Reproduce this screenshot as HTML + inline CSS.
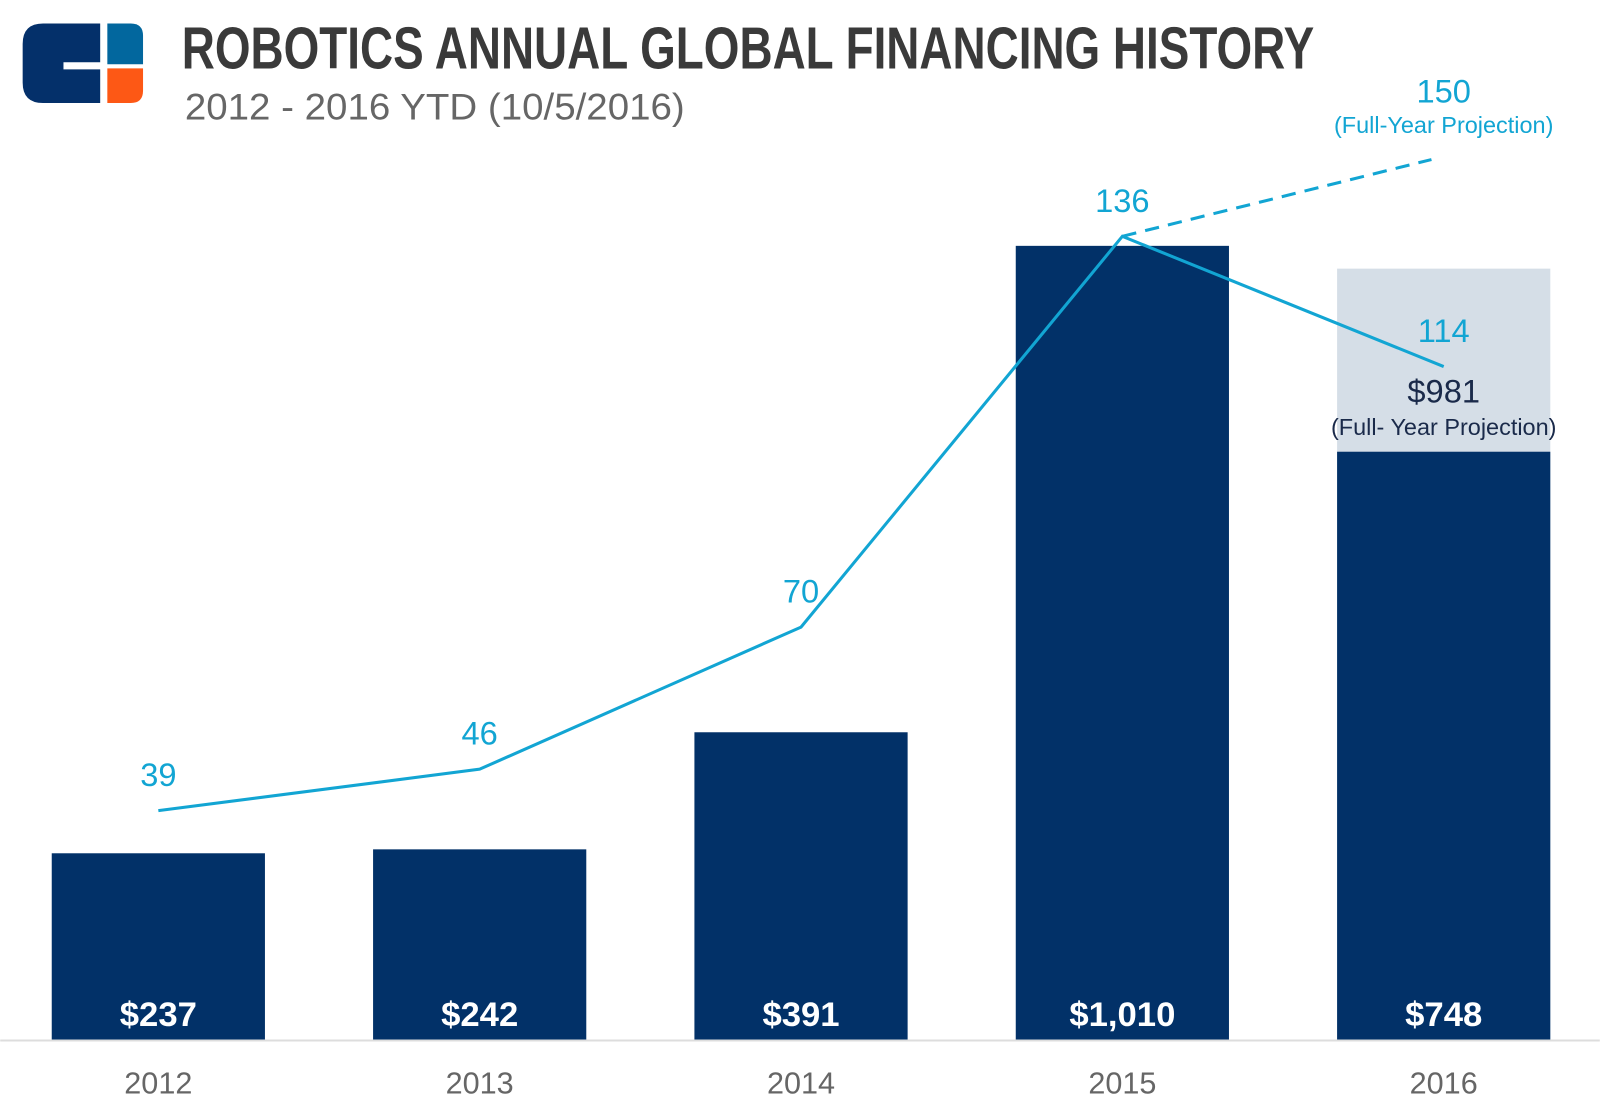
<!DOCTYPE html>
<html><head><meta charset="utf-8"><style>
html,body{margin:0;padding:0;background:#fff;width:1600px;height:1115px;overflow:hidden}
svg{display:block;font-family:"Liberation Sans",sans-serif}
</style></head><body>
<svg id="chart" width="1600" height="1115" viewBox="0 0 1568 1093">
<g>
<path d="M42,23 H98 V61 H62 V68 H98 V101 H42 Q22,101 22,81 V43 Q22,23 42,23 Z" fill="#04306a"/>
<path d="M105,23 H128 Q140,23 140,35 V63 H105 Z" fill="#02679e"/>
<path d="M105,67 H140 V89 Q140,101 128,101 H105 Z" fill="#fd5815"/>
</g>
<text x="178" y="67" font-size="58" font-weight="bold" fill="#3a3a3a" textLength="1110" lengthAdjust="spacingAndGlyphs">ROBOTICS ANNUAL GLOBAL FINANCING HISTORY</text>
<text x="181" y="117" font-size="36" fill="#666" textLength="490" lengthAdjust="spacingAndGlyphs">2012 - 2016 YTD (10/5/2016)</text>
<line x1="0" y1="1020" x2="1568" y2="1020" stroke="#ddd" stroke-width="2"/>
<g id="bars"></g><g id="line"></g><g id="labels"></g>
</svg>
<script>
const years=["2012","2013","2014","2015","2016"];
const financing=[237,242,391,1010,748];
const financingLabels=["$237","$242","$391","$1,010","$748"];
const projectedFinancing=981;
const deals=[39,46,70,136,114];
const projectedDeals=150;
const NS="http://www.w3.org/2000/svg";
const xC=i=>155+i*315;
const yBar=v=>1019-v*0.7703;
const yLine=v=>1021-v*5.804;
function el(t,a,p){const e=document.createElementNS(NS,t);for(const k in a)e.setAttribute(k,a[k]);document.getElementById(p).appendChild(e);return e;}
function txt(p,x,y,s,size,fill,extra){const e=el("text",Object.assign({x:x,y:y,"font-size":size,fill:fill,"text-anchor":"middle"},extra||{}),p);e.textContent=s;return e;}
let pb=el("rect",{x:xC(4)-104.5,y:yBar(projectedFinancing),width:209,height:1019-yBar(projectedFinancing),fill:"#d5dee7"},"bars");


financing.forEach((v,i)=>{
 let r=el("rect",{x:xC(i)-104.5,y:yBar(v),width:209,height:1019-yBar(v),fill:"#023168"},"bars");
 
 
 let t=txt("labels",xC(i),1006,financingLabels[i],34,"#fff",{"font-weight":"bold"});
 
 
 let y=txt("labels",xC(i),1072,years[i],30,"#666");
 
 
});
let pts=deals.map((v,i)=>xC(i)+","+yLine(v)).join(" ");
let pl=el("polyline",{points:pts,fill:"none",stroke:"#12a5d3","stroke-width":3},"line");


let dl=el("line",{x1:xC(3),y1:yLine(deals[3]),x2:xC(4)-12,y2:yLine(projectedDeals)+6,stroke:"#12a5d3","stroke-width":3,"stroke-dasharray":"14,9"},"line");


deals.forEach((v,i)=>{
 let t=txt("labels",xC(i),yLine(v)-24,String(v),32,"#12a5d3");
 
 
});
let p1=txt("labels",xC(4),yLine(projectedDeals)-50,String(projectedDeals),32,"#12a5d3");


let p2=txt("labels",xC(4),yLine(projectedDeals)-20,"(Full-Year Projection)",23,"#12a5d3");


let p3=txt("labels",xC(4),yBar(projectedFinancing)+131,"$"+projectedFinancing,32,"#1a2a4a");


let p4=txt("labels",xC(4),yBar(projectedFinancing)+163,"(Full- Year Projection)",23,"#1a2a4a");


</script>
</body></html>
